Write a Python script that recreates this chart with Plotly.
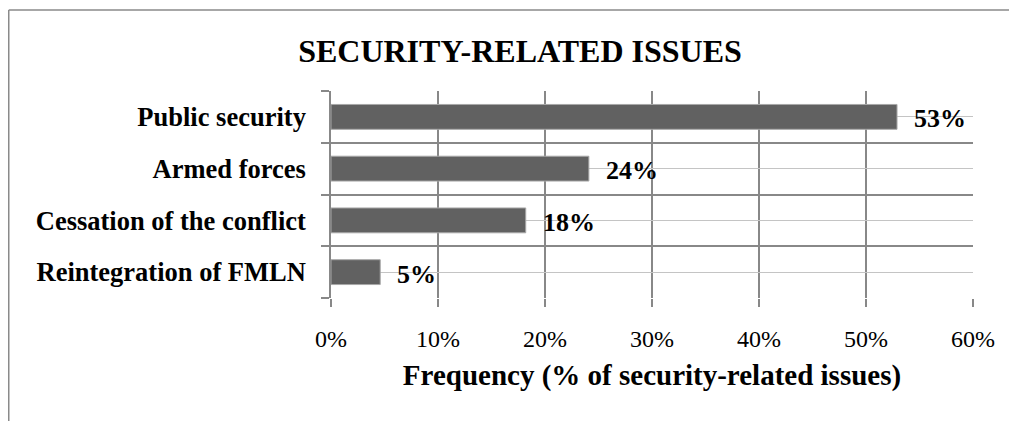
import plotly.graph_objects as go

categories = ["Public security", "Armed forces", "Cessation of the conflict", "Reintegration of FMLN"]
values = [52.9, 24.1, 18.2, 4.6]
value_labels = ["53%", "24%", "18%", "5%"]
x_ticks = [0, 10, 20, 30, 40, 50, 60]
x_tick_labels = ["0%", "10%", "20%", "30%", "40%", "50%", "60%"]

idx = list(range(len(categories)))
bounds = [i - 0.5 for i in range(len(categories) + 1)]

SERIF = "Liberation Serif"
W, H = 1009, 413
L, T, PW, PH = 323, 83, 642, 207

fig = go.Figure()
fig.add_trace(go.Bar(
    x=values, y=idx, orientation="h", width=0.48,
    marker=dict(color="#616161", line=dict(color="#a8a8a8", width=1)),
    hoverinfo="skip",
))

for v, i, lab in zip(values, idx, value_labels):
    fig.add_annotation(x=v, y=i, text="<b>" + lab + "</b>", showarrow=False,
                       xanchor="left", yanchor="middle", xshift=15, yshift=-2,
                       font=dict(family=SERIF, size=26, color="black"))

fig.update_layout(
    width=W, height=H,
    margin=dict(l=L, r=W - L - PW, t=T, b=H - T - PH),
    paper_bgcolor="white", plot_bgcolor="white",
    showlegend=False,
    title=dict(text="<b>SECURITY-RELATED ISSUES</b>", x=512 / W, xanchor="center",
               y=1 - 43 / H, yanchor="middle",
               font=dict(family=SERIF, size=32, color="black")),
    xaxis=dict(
        range=[0, 60], tickvals=x_ticks, ticktext=x_tick_labels,
        showgrid=True, gridcolor="#888888", gridwidth=1.6,
        ticks="outside", ticklen=8, tickcolor="#888888", tickwidth=1.6,
        tickfont=dict(family=SERIF, size=24, color="black"),
        ticklabelstandoff=11,
        showline=False, zeroline=False,
        title=dict(text="<b>Frequency (% of security-related issues)</b>",
                   font=dict(family=SERIF, size=29, color="black"), standoff=13),
    ),
    yaxis=dict(
        range=[len(categories) - 0.5, -0.5],
        tickvals=idx, ticktext=["<b>" + c + "</b>" for c in categories],
        showgrid=True, gridcolor="#c4c4c4", gridwidth=1.4,
        ticks="", tickfont=dict(family=SERIF, size=26.5, color="black"),
        ticklabelstandoff=18,
        zeroline=False, showline=True, linecolor="#888888", linewidth=1.6,
        minor=dict(tickvals=bounds, ticks="outside", ticklen=8, tickcolor="#888888",
                   tickwidth=1.6, showgrid=True, gridcolor="#888888", gridwidth=1.6),
    ),
    shapes=[
        dict(type="line", xref="paper", yref="paper",
             x0=(0.75 - L) / PW, x1=(W - L) / PW,
             y0=(T + PH - 2) / PH, y1=(T + PH - 2) / PH,
             line=dict(color="#8a8a8a", width=1.5)),
        dict(type="line", xref="paper", yref="paper",
             x0=(0.75 - L) / PW, x1=(0.75 - L) / PW,
             y0=(T + PH - 2) / PH, y1=(T + PH - H - 5) / PH,
             line=dict(color="#8a8a8a", width=1.5)),
    ],
)

fig.write_html("out.html")
